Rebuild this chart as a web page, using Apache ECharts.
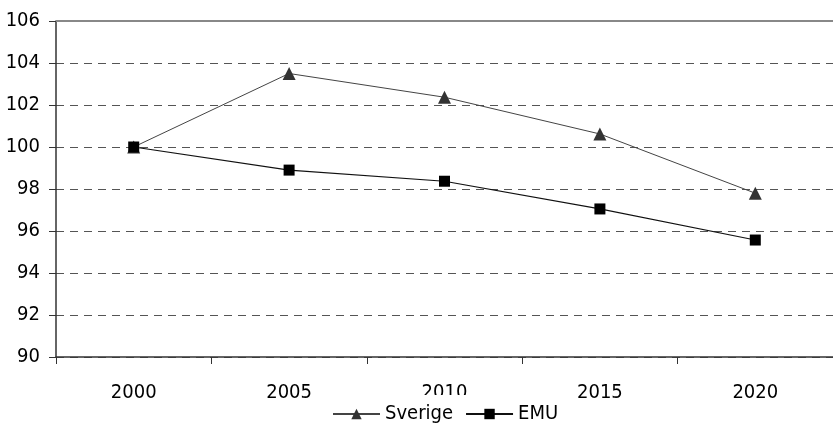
<!DOCTYPE html>
<html>
<head>
<meta charset="utf-8">
<script src="https://cdn.jsdelivr.net/npm/echarts@6/dist/echarts.min.js"></script>
<style>
  html, body { margin: 0; padding: 0; background: #fff; }
  #chart { width: 833px; height: 426px; }
</style>
</head>
<body>
<div id="chart"></div>
<script>
const years = ['2000', '2005', '2010', '2015', '2020']
const sverige = [100, 103.5, 102.37, 100.62, 97.8]
const emu = [100, 98.9, 98.37, 97.05, 95.57]

const FONT = '"Liberation Sans Narrow", "Arial Narrow", "DejaVu Sans Condensed", "Liberation Sans", sans-serif'

let myChart = echarts.init(document.getElementById('chart'))
let option = {
  animation: false,
  backgroundColor: '#fff',
  grid: { left: 56, right: 0, top: 21, bottom: 69 },
  legend: {
    bottom: 0,
    left: 324,
    padding: [9, 8, 2, 8],
    backgroundColor: '#fff',
    itemWidth: 47,
    itemHeight: 13,
    itemGap: 12,
    textStyle: { fontFamily: FONT, fontSize: 20, color: '#000' },
    data: ['Sverige', 'EMU']
  },
  xAxis: {
    type: 'category',
    data: years,
    boundaryGap: true,
    axisLine: { lineStyle: { color: '#333', width: 1.5 } },
    axisTick: { show: true, length: 7, lineStyle: { color: '#333' } },
    axisLabel: { fontFamily: FONT, fontSize: 20, color: '#000', margin: 26 },
    splitLine: { show: false }
  },
  yAxis: {
    type: 'value',
    min: 90,
    max: 106,
    interval: 2,
    axisLine: { show: true, lineStyle: { color: '#333', width: 1.5 } },
    axisTick: { show: true, length: 7, lineStyle: { color: '#333' } },
    axisLabel: { fontFamily: FONT, fontSize: 20, color: '#000', margin: 16 },
    splitLine: { show: true, lineStyle: { color: '#555', type: [8, 6], width: 1 } }
  },
  series: [
    {
      name: 'Sverige',
      type: 'line',
      data: sverige,
      symbol: 'triangle',
      symbolSize: 13,
      lineStyle: { color: '#444', width: 1 },
      itemStyle: { color: '#333' }
    },
    {
      name: 'EMU',
      type: 'line',
      data: emu,
      symbol: 'rect',
      symbolSize: 11,
      lineStyle: { color: '#111', width: 1.2 },
      itemStyle: { color: '#000' }
    }
  ],
  graphic: [
    {
      type: 'line',
      z: 5,
      shape: { x1: 56, y1: 21, x2: 833, y2: 21 },
      style: { stroke: '#888', lineWidth: 2 }
    }
  ]
}
myChart.setOption(option)
window.addEventListener('resize', () => myChart.resize())
</script>
</body>
</html>
